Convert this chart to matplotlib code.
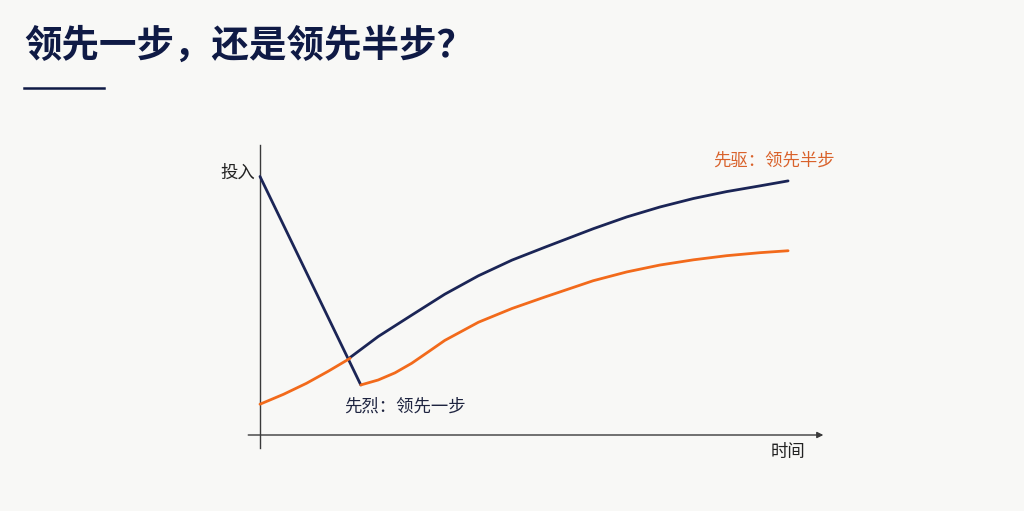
import matplotlib.pyplot as plt

plt.rcParams['font.family'] = ['Noto Sans CJK SC', 'DejaVu Sans']

# 先烈：投入高 -> 迅速跌落
navy_drop_x = [0, 18.0]
navy_drop_y = [94.0, 18.2]
# 先驱：起步低
orange_start_x = [0, 4.2, 8.3, 12.2, 16.1]
orange_start_y = [11.2, 14.8, 18.8, 23.2, 27.9]
# 交叉后的上升曲线
navy_rise_x = [16.1, 21.1, 27.1, 33.0, 39.0, 45.0, 50.9, 59.5, 65.5, 71.4, 77.4, 83.3, 89.3, 94.3]
navy_rise_y = [28.2, 35.8, 43.6, 51.2, 57.9, 63.6, 68.3, 75.0, 79.3, 82.9, 86.0, 88.5, 90.6, 92.4]
orange_rise_x = [18.0, 21.1, 24.1, 27.1, 30.1, 33.0, 39.0, 45.0, 50.9, 59.5, 65.5, 71.4,
                 77.4, 83.3, 89.3, 94.3]
orange_rise_y = [18.2, 20.0, 22.6, 26.1, 30.3, 34.4, 41.0, 46.0, 50.2, 56.1, 59.3, 61.8,
                 63.7, 65.2, 66.3, 67.0]

NAVY = '#1b2556'
ORANGE = '#f26a1b'
AXIS = '#3a3a3a'
BG = '#f8f8f6'

fig = plt.figure(figsize=(10.24, 5.11), dpi=100, facecolor=BG)

# axes placed so that 0..100 maps to the drawing area
xmin, xmax, ymin, ymax = -5, 105, -8, 110
left = (260 + xmin * 5.6) / 1024
width = (xmax - xmin) * 5.6 / 1024
bottom = (511 - 435 + ymin * 2.75) / 511
height = (ymax - ymin) * 2.75 / 511
ax = fig.add_axes([left, bottom, width, height])
ax.set_xlim(xmin, xmax)
ax.set_ylim(ymin, ymax)
ax.axis('off')
ax.patch.set_alpha(0)

# axes lines
ax.plot([0, 0], [-4.7, 105.5], color=AXIS, lw=1.0)
ax.annotate('', xy=(100.6, 0), xytext=(-2.1, 0),
            arrowprops=dict(arrowstyle='-|>', color=AXIS, lw=1.0, mutation_scale=9,
                            shrinkA=0, shrinkB=0))

line_kw = dict(lw=2.0, solid_capstyle='round', solid_joinstyle='round')
ax.plot(navy_drop_x, navy_drop_y, color=NAVY, **line_kw)
ax.plot(navy_rise_x, navy_rise_y, color=NAVY, **line_kw)
ax.plot(orange_start_x, orange_start_y, color=ORANGE, **line_kw)
ax.plot(orange_rise_x, orange_rise_y, color=ORANGE, **line_kw)

ax.text(-0.9, 95.3, '投入', fontsize=12.5, color='#222222', ha='right', va='center')
ax.text(94.3, -6.2, '时间', fontsize=12.5, color='#222222', ha='center', va='center')
ax.text(15, 10.2, '先烈：领先一步', fontsize=12.5, color='#1e2440', ha='left', va='center')
ax.text(81, 99.6, '先驱：领先半步', fontsize=12.5, color='#d9622b', ha='left', va='center')

# title
fig.text(24 / 1024, 1 - 45 / 511, '领先一步，还是领先半步？', fontsize=27, fontweight='bold',
         color='#0f1a45', ha='left', va='center')
fig.add_artist(plt.Line2D([24 / 1024, 104 / 1024], [1 - 88 / 511, 1 - 88 / 511],
                          color='#0f1a45', lw=1.8))

fig.savefig('out.png', dpi=100, facecolor=BG)
